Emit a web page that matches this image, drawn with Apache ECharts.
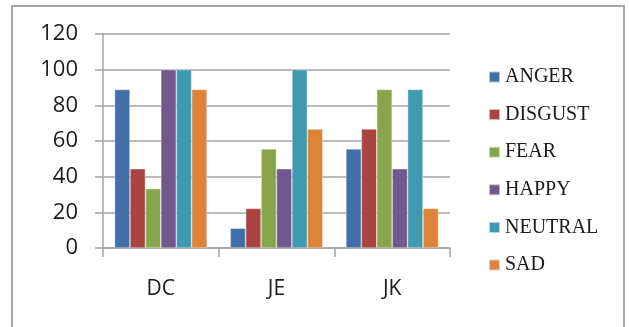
<!DOCTYPE html>
<html>
<head>
<meta charset="utf-8">
<style>
  html, body { margin: 0; padding: 0; background: #fff; }
  #chart { width: 629px; height: 327px; }
</style>
<script src="https://cdn.jsdelivr.net/npm/echarts@6/dist/echarts.min.js"></script>
</head>
<body>
<div id="chart"></div>
<script>
// Subjects along the x axis
const categories = ['DC', 'JE', 'JK'];

// Emotion scores per subject (percent)
const anger   = [88.9, 11.1, 55.6];
const disgust = [44.4, 22.2, 66.7];
const fear    = [33.3, 55.6, 88.9];
const happy   = [100, 44.4, 44.4];
const neutral = [100, 100, 88.9];
const sad     = [88.9, 66.7, 22.2];

const seriesNames = ['ANGER', 'DISGUST', 'FEAR', 'HAPPY', 'NEUTRAL', 'SAD'];
const seriesValues = [anger, disgust, fear, happy, neutral, sad];
const seriesColors = ['#4070A8', '#A94441', '#89A54B', '#71588F', '#3F9AB0', '#DD843A'];

const yTicks = { min: 0, max: 120, interval: 20 };

const gray = '#A3A3A3';
const sansFont = '"Open Sans", sans-serif';
const serifFont = '"Liberation Serif", "DejaVu Serif", serif';

const chart = echarts.init(document.getElementById('chart'), null, { renderer: 'canvas' });

chart.setOption({
  animation: false,
  backgroundColor: '#ffffff',
  graphic: [{
    type: 'rect',
    shape: { x: 12, y: 6, width: 612, height: 340 },
    style: { fill: 'none', stroke: '#A6A6A6', lineWidth: 2 },
    z: -1
  }],
  grid: { left: 103, right: 179, top: 34, bottom: 79, containLabel: false },
  legend: {
    orient: 'vertical',
    left: 488,
    top: 67,
    padding: 0,
    itemWidth: 11,
    itemHeight: 11,
    itemGap: 17.6,
    icon: 'rect',
    textStyle: {
      fontFamily: serifFont,
      fontSize: 20,
      color: '#1a1a1a',
      lineHeight: 20
    },
    data: seriesNames
  },
  xAxis: {
    type: 'category',
    data: categories,
    axisLine: { show: true, lineStyle: { color: gray, width: 1.5 } },
    axisTick: { show: true, interval: 0, length: 9, lineStyle: { color: gray, width: 1.5 } },
    axisLabel: {
      margin: 31,
      fontFamily: sansFont,
      fontSize: 21,
      color: '#1a1a1a'
    }
  },
  yAxis: {
    type: 'value',
    min: yTicks.min,
    max: yTicks.max,
    interval: yTicks.interval,
    axisLine: { show: true, lineStyle: { color: gray, width: 1.5 } },
    axisTick: { show: true, length: 8, lineStyle: { color: gray, width: 1.5 } },
    splitLine: { show: true, lineStyle: { color: gray, width: 1.5 } },
    axisLabel: {
      margin: 25,
      fontFamily: sansFont,
      fontSize: 22,
      color: '#1a1a1a'
    }
  },
  series: seriesNames.map((name, i) => ({
    name: name,
    type: 'bar',
    data: seriesValues[i],
    barGap: '0%',
    barCategoryGap: '20%',
    itemStyle: {
      color: seriesColors[i],
      borderColor: 'rgba(255,255,255,0.6)',
      borderWidth: 0.6
    }
  }))
});
</script>
</body>
</html>
